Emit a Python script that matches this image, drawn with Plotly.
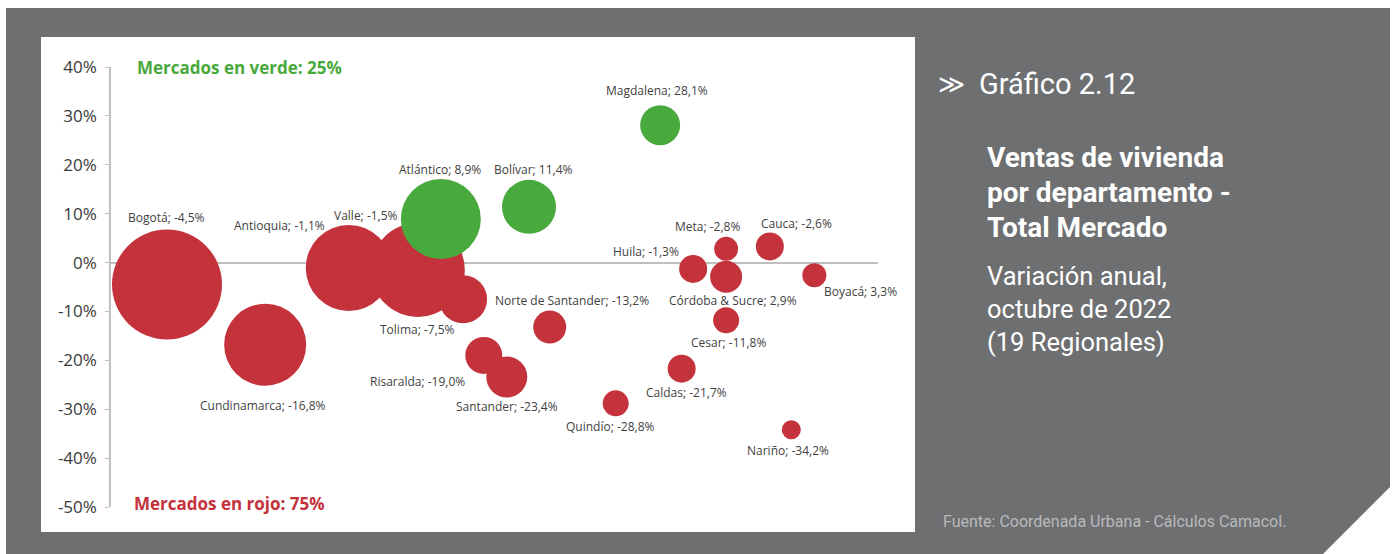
import plotly.graph_objects as go

# ---------------- data ----------------
departamentos = ["Bogotá", "Cundinamarca", "Antioquia", "Valle", "Atlántico", "Tolima",
                 "Risaralda", "Santander", "Bolívar", "Norte de Santander", "Quindío",
                 "Magdalena", "Caldas", "Huila", "Meta", "Córdoba & Sucre", "Cesar",
                 "Cauca", "Nariño", "Boyacá"]
etiquetas = ["Bogotá; -4,5%", "Cundinamarca; -16,8%", "Antioquia; -1,1%", "Valle; -1,5%",
             "Atlántico; 8,9%", "Tolima; -7,5%", "Risaralda; -19,0%", "Santander; -23,4%",
             "Bolívar; 11,4%", "Norte de Santander; -13,2%", "Quindío; -28,8%",
             "Magdalena; 28,1%", "Caldas; -21,7%", "Huila; -1,3%", "Meta; -2,8%",
             "Córdoba & Sucre; 2,9%", "Cesar; -11,8%", "Cauca; -2,6%", "Nariño; -34,2%",
             "Boyacá; 3,3%"]
posicion_x = [7.3, 20.1, 31.0, 40.0, 43.0, 45.9, 48.6, 51.6, 54.5, 57.2, 65.8,
              71.6, 74.4, 75.9, 80.2, 80.2, 80.2, 85.9, 88.7, 91.7]
variacion = [-4.5, -16.8, -1.1, -1.5, 8.9, -7.5, -19.0, -23.4, 11.4, -13.2, -28.8,
             28.1, -21.7, -1.3, 2.8, -2.9, -11.8, 3.3, -34.2, -2.6]
volumen = [3025, 1681, 1849, 2209, 1600, 576, 342, 420, 729, 272, 169,
           400, 196, 196, 144, 256, 169, 196, 90, 144]
y_ticks = [40, 30, 20, 10, 0, -10, -20, -30, -40, -50]
y_ticklabels = ["40%", "30%", "20%", "10%", "0%", "-10%", "-20%", "-30%", "-40%", "-50%"]
titulo_lineas = ["Ventas de vivienda", "por departamento -", "Total Mercado"]
subtitulo_lineas = ["Variación anual,", "octubre de 2022", "(19 Regionales)"]

# label offsets (pixels) relative to bubble centre
label_dx = [0, -2, -69, -52, -1, -46, -66, 0, 4, 22, -6, -3, 5, -47, -19, 7, 2, 27, -3, 46]
label_dy = [-67, 61, -42, -54, -50, 30, 26, 30, -37, -27, 23, -35, 24, -17, -22, 24, 22, -23, 21, 16]

RED = "#c4323c"
GREEN = "#48a93c"
GRAY_BG = "#6e6f71"

W, H = 1394, 554
def px(x):
    return x / W
def py(y):
    return (H - y) / H

colors = [GREEN if d in ("Atlántico", "Bolívar", "Magdalena") else RED for d in departamentos]

fig = go.Figure()
fig.add_trace(go.Scatter(
    x=posicion_x, y=variacion, mode="markers",
    marker=dict(size=volumen, sizemode="area", sizeref=0.5, color=colors,
                line=dict(width=0), opacity=1),
    text=departamentos, hoverinfo="text", cliponaxis=False, showlegend=False))

annotations = []
for xv, yv, lab, dx, dy in zip(posicion_x, variacion, etiquetas, label_dx, label_dy):
    annotations.append(dict(x=xv, y=yv, xref="x", yref="y", text=lab, showarrow=False,
                            xshift=dx, yshift=-dy,
                            font=dict(family="Open Sans", size=12, color="#3f3f3f")))

def paper_text(x, y, text, size, color, family="Roboto"):
    return dict(x=px(x), y=py(y), xref="paper", yref="paper", xanchor="left",
                yanchor="middle", text=text, showarrow=False, align="left",
                font=dict(family=family, size=size, color=color))

annotations += [
    paper_text(135, 67, "<b>Mercados en verde: 25%</b>", 17, GREEN, "Open Sans"),
    paper_text(132, 503, "<b>Mercados en rojo: 75%</b>", 17, RED, "Open Sans"),
    paper_text(936, 84, "≫", 26, "white", "DejaVu Sans"),
    paper_text(977, 84, "Gráfico 2.12", 29, "white"),
]
for i, line in enumerate(titulo_lineas):
    annotations.append(paper_text(985, 158 + 35 * i, "<b>" + line + "</b>", 28, "white"))
for i, line in enumerate(subtitulo_lineas):
    annotations.append(paper_text(985, 276 + 33 * i, line, 25.5, "white"))
annotations.append(paper_text(941, 521, "Fuente: Coordenada Urbana - Cálculos Camacol.",
                              16, "#b9babc"))

shapes = [
    dict(type="path", xref="paper", yref="paper", layer="below",
         path=f"M {px(6)},{py(8)} L {px(1390)},{py(8)} L {px(1390)},{py(487)} "
              f"L {px(1323)},{py(554)} L {px(6)},{py(554)} Z",
         fillcolor=GRAY_BG, line=dict(width=0)),
    dict(type="rect", xref="paper", yref="paper", layer="below",
         x0=px(41), x1=px(915), y0=py(532), y1=py(37),
         fillcolor="white", line=dict(width=0)),
]

fig.update_layout(
    width=W, height=H, margin=dict(l=0, r=0, t=0, b=0, pad=0, autoexpand=False),
    paper_bgcolor="white", plot_bgcolor="rgba(0,0,0,0)",
    annotations=annotations, shapes=shapes,
    xaxis=dict(domain=[px(111), px(878)], range=[0, 100], showgrid=False,
               zeroline=False, showticklabels=False, ticks="", showline=False,
               automargin=False),
    yaxis=dict(domain=[py(507), py(67)], range=[-50, 40], tickvals=y_ticks,
               ticktext=y_ticklabels, showgrid=False, zeroline=True,
               zerolinecolor="#bfbfbf", zerolinewidth=1.5,
               showline=True, linecolor="#bfbfbf", linewidth=1.5,
               ticks="outside", ticklen=4, tickcolor="#bfbfbf",
               ticklabelstandoff=5, automargin=False,
               tickfont=dict(family="Open Sans", size=17, color="#3a3a3a")),
)

post = ("document.body.style.margin='0';document.body.style.padding='0';"
        "document.body.style.overflow='hidden';"
        "document.documentElement.style.overflow='hidden';")
fig.write_html("out.html", post_script=post, config={"displayModeBar": False})
